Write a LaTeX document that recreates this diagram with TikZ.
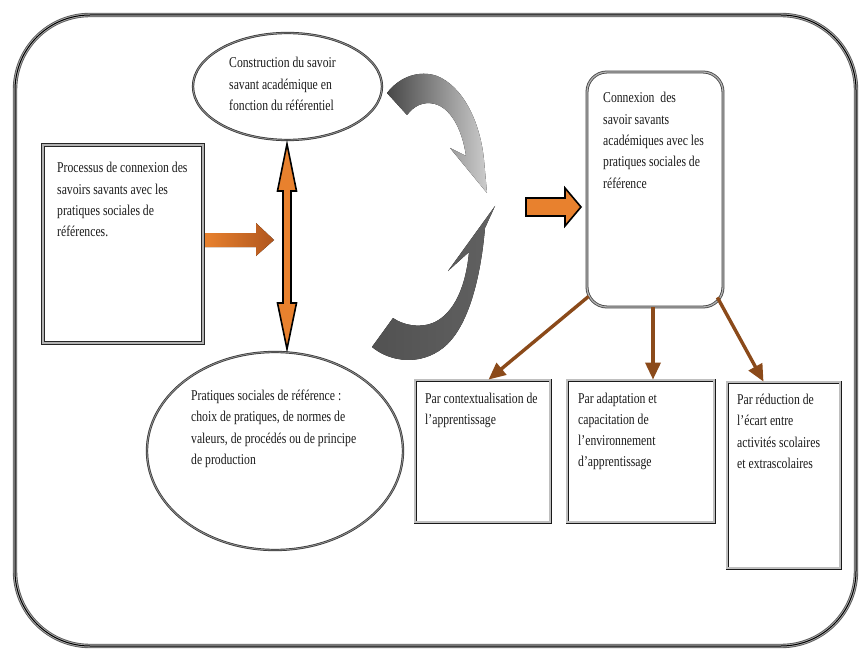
\documentclass[tikz,border=0pt]{standalone}
\usepackage{graphicx}
\usepackage{fontspec}
\setmainfont{Liberation Serif}
\usetikzlibrary{shapes.geometric,arrows.meta,calc}
\definecolor{orng}{HTML}{E8812E}
\definecolor{orngdk}{HTML}{B0561E}
\definecolor{brn}{HTML}{8B4A1A}
\definecolor{txtc}{HTML}{1A1A1A}
\newcommand\mytx[2][220pt]{\scalebox{1}[1.28]{\parbox[t]{#1}{\raggedright #2}}}
\begin{document}
\begin{tikzpicture}[x=1pt,y=-1pt,
  txt/.style={inner sep=0pt, anchor=base west, text=txtc, font=\fontsize{11.7}{16.64}\selectfont},
  sqbox/.style={rectangle, draw=black!90, double=black!25, line width=0.8pt, double distance=1.4pt, inner sep=0pt},
  bigbox/.style={rectangle, draw=black!85, double=black!30, line width=1.1pt, double distance=1.6pt, inner sep=0pt},
  ellbox/.style={ellipse, draw=black!80, double=black!45, line width=0.7pt, double distance=0.9pt, inner sep=0pt},
  rndbox/.style={rectangle, rounded corners=20pt, draw=black!75, double=black!30, line width=0.8pt, double distance=1.3pt, inner sep=0pt},
  brarrow/.style={draw=brn, line width=3.4pt, -{Triangle[length=17pt,width=15pt]}},
  blockarrow/.style={fill=orng, draw=black, line width=1.6pt, line join=miter}
]
\useasboundingbox (0,0) rectangle (860,650);
\fill[white] (0,0) rectangle (860,650);

% outer frame
\draw[line width=4.4pt, black!65, rounded corners=75pt] (15,15) rectangle (856,646);
\draw[line width=2.6pt, black!30, rounded corners=75pt] (15,15) rectangle (856,646);
\draw[line width=1pt, black, rounded corners=75pt] (15,15) rectangle (856,646);

% boxes and ellipses
\node[bigbox, minimum width=160pt, minimum height=198pt] (lbox) at (123,244) {};
\node[ellbox, minimum width=189pt, minimum height=107pt] (e1) at (287.5,86.5) {};
\node[ellbox, minimum width=256pt, minimum height=198pt] (e2) at (275,451) {};
\node[rndbox, minimum width=136pt, minimum height=235pt] (rbox) at (655,189.5) {};
\node[sqbox, minimum width=135pt, minimum height=142pt] (b1) at (482.5,451) {};
\node[sqbox, minimum width=147pt, minimum height=142pt] (b2) at (640.5,451) {};
\node[sqbox, minimum width=113pt, minimum height=186pt] (b3) at (783.5,475) {};

% texts
\node[txt] (tl) at (57,173) {\mytx{Processus de connexion des\\savoirs savants avec les\\pratiques sociales de\\références.}};
\node[txt] (te1) at (229,68) {\mytx{Construction du savoir\\savant académique en\\fonction du référentiel}};
\node[txt] (te2) at (191,400.5) {\mytx{Pratiques sociales de référence :\\choix de pratiques, de normes de\\valeurs, de procédés ou de principe\\de production}};
\node[txt] (tr) at (603,103) {\mytx{Connexion\ \ des\\savoir savants\\académiques avec les\\pratiques sociales de\\référence}};
\node[txt] (tb1) at (425,403) {\mytx{Par contextualisation de\\l’apprentissage}};
\node[txt] (tb2) at (578,403) {\mytx{Par adaptation et\\capacitation de\\l’environnement\\d’apprentissage}};
\node[txt] (tb3) at (737,404.5) {\mytx{Par réduction de\\l’écart entre\\activités scolaires\\et extrascolaires}};

% orange arrow from left box
\fill[left color=orng, right color=orngdk] (205,233) -- (256,233) -- (256,223) -- (274,240) -- (256,256) -- (256,247) -- (205,247) -- cycle;

% vertical double arrow between ellipses
\draw[blockarrow] (287,144) -- (296.5,191) -- (291,191) -- (291,303) -- (296.5,303) -- (287,349) -- (277.5,303) -- (283,303) -- (283,191) -- (277.5,191) -- cycle;

% curved arrows
\fill[left color=black!72, right color=black!20] (387,93) .. controls (400,76) and (420,70) .. (437,76) .. controls (462,86) and (480,120) .. (484,160) -- (487,193) -- (450,148) -- (466,156) .. controls (462,128) and (450,108) .. (435,104) .. controls (423,101) and (414,106) .. (407,115) -- cycle;
\fill[left color=black!68, middle color=black!97, right color=black!62] (372,347) .. controls (390,362) and (420,366) .. (443,348) .. controls (466,330) and (480,285) .. (485,228) -- (495,206) -- (448,271) -- (469,252) .. controls (466,285) and (455,312) .. (435,322) .. controls (420,329) and (403,325) .. (393,318) -- cycle;

% orange arrow to right box
\draw[blockarrow] (526,198) -- (565,198) -- (565,188) -- (581,207) -- (565,226) -- (565,216) -- (526,216) -- cycle;

% brown arrows
\draw[brarrow] ($(rbox.south west)+(2,-11)$) -- ($(b1.north)+(6,0)$);
\draw[brarrow] ($(rbox.south)+(-2,0)$) -- ($(b2.north)+(12.5,0)$);
\draw[brarrow] ($(rbox.south east)+(-6,-10)$) -- ($(b3.north)+(-20,0)$);
\end{tikzpicture}
\end{document}
